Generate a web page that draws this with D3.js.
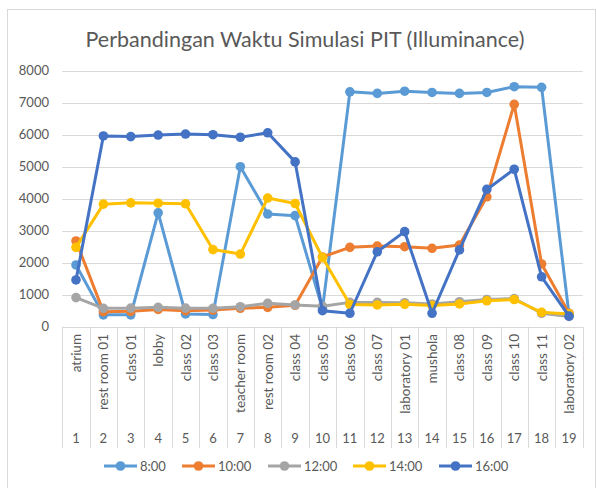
<!DOCTYPE html>
<html>
<head>
<meta charset="utf-8">
<script src="https://cdn.jsdelivr.net/npm/d3@7"></script>
<style>
  body { margin: 0; background: #fff; }
  svg { display: block; font-family: Lato, "Open Sans", sans-serif; }
</style>
</head>
<body>
<div id="svg-container"></div>
<script>
const categories = ['atrium', 'rest room 01', 'class 01', 'lobby', 'class 02', 'class 03',
  'teacher room', 'rest room 02', 'class 04', 'class 05', 'class 06', 'class 07',
  'laboratory 01', 'mushola', 'class 08', 'class 09', 'class 10', 'class 11', 'laboratory 02']
const numbers = d3.range(1, 20).map(String)
const yTicks = [0, 1000, 2000, 3000, 4000, 5000, 6000, 7000, 8000]

const s0800 = [1930, 370, 370, 3560, 400, 380, 5000, 3520, 3470, 560, 7340, 7290, 7360, 7320, 7290, 7320, 7500, 7480, 380]
const s1000 = [2680, 470, 480, 540, 500, 520, 575, 605, 670, 2180, 2480, 2520, 2500, 2450, 2550, 4060, 6950, 1960, 420]
const s1200 = [910, 575, 580, 605, 580, 575, 625, 730, 680, 640, 760, 760, 750, 710, 780, 850, 880, 420, 320]
const s1400 = [2480, 3830, 3870, 3860, 3840, 2410, 2270, 4020, 3850, 2160, 690, 680, 700, 660, 710, 810, 850, 450, 400]
const s1600 = [1460, 5960, 5940, 5990, 6020, 6000, 5920, 6060, 5150, 500, 420, 2340, 2970, 420, 2400, 4290, 4920, 1560, 330]

const seriesNames = ['8:00', '10:00', '12:00', '14:00', '16:00']
const seriesColors = ['#5B9BD5', '#ED7D31', '#A5A5A5', '#FFC000', '#4472C4']
const series = [s0800, s1000, s1200, s1400, s1600].map((values, i) => ({
  name: seriesNames[i], color: seriesColors[i], values,
}))

const width = 596
const height = 488
const plotLeft = 62.3
const plotRight = 582.7
const plotTop = 70.7
const plotBottom = 326.7

const svg = d3.select('#svg-container').append('svg')
  .attr('width', width).attr('height', height)

// chart frame
svg.append('rect')
  .attr('x', 7.5).attr('y', 9.5).attr('width', 588).attr('height', 500)
  .attr('fill', '#fff').attr('stroke', '#D9D9D9')

svg.append('text')
  .attr('x', 305).attr('y', 47)
  .attr('text-anchor', 'middle')
  .attr('font-size', 21.5).attr('fill', '#595959')
  .text('Perbandingan Waktu Simulasi PIT (Illuminance)')

const x = d3.scaleBand().domain(categories).range([plotLeft, plotRight])
const y = d3.scaleLinear().domain([0, 8000]).range([plotBottom, plotTop])

// gridlines + y labels
const grid = svg.append('g')
grid.selectAll('line')
  .data(yTicks)
  .join('line')
  .attr('x1', plotLeft).attr('x2', plotRight)
  .attr('y1', d => Math.round(y(d)) + 0.5).attr('y2', d => Math.round(y(d)) + 0.5)
  .attr('stroke', '#D9D9D9').attr('stroke-width', 1)

grid.selectAll('text')
  .data(yTicks)
  .join('text')
  .attr('x', 49).attr('y', d => y(d))
  .attr('dy', '0.35em')
  .attr('text-anchor', 'end')
  .attr('font-size', 13).attr('fill', '#595959')
  .text(d => d)

// category table below plot
const axis = svg.append('g')
const bounds = categories.map(c => x(c)).concat([plotRight])
axis.selectAll('line')
  .data(bounds)
  .join('line')
  .attr('x1', d => Math.round(d) + 0.5).attr('x2', d => Math.round(d) + 0.5)
  .attr('y1', plotBottom).attr('y2', 448)
  .attr('stroke', '#D9D9D9')

axis.selectAll('text.name')
  .data(categories)
  .join('text')
  .attr('class', 'name')
  .attr('transform', d => `translate(${x(d) + x.bandwidth() / 2 + 5},334) rotate(-90)`)
  .attr('text-anchor', 'end')
  .attr('font-size', 13.5).attr('fill', '#595959')
  .text(d => d)

axis.selectAll('text.num')
  .data(categories)
  .join('text')
  .attr('class', 'num')
  .attr('x', d => x(d) + x.bandwidth() / 2)
  .attr('y', 443)
  .attr('text-anchor', 'middle')
  .attr('font-size', 13).attr('fill', '#595959')
  .text((d, i) => numbers[i])

// series
const cx = i => x(categories[i]) + x.bandwidth() / 2
const line = d3.line().x((d, i) => cx(i)).y(d => y(d))

series.forEach(s => {
  const g = svg.append('g')
  g.append('path')
    .attr('d', line(s.values))
    .attr('fill', 'none')
    .attr('stroke', s.color).attr('stroke-width', 3)
    .attr('stroke-linejoin', 'round')
  g.selectAll('circle')
    .data(s.values)
    .join('circle')
    .attr('cx', (d, i) => cx(i)).attr('cy', d => y(d))
    .attr('r', 4.8)
    .attr('fill', s.color)
})

// legend
const legendX = [104, 182, 268, 353, 439]
const legend = svg.append('g')
series.forEach((s, i) => {
  const g = legend.append('g').attr('transform', `translate(${legendX[i]},466)`)
  g.append('line')
    .attr('x1', 0).attr('x2', 33)
    .attr('stroke', s.color).attr('stroke-width', 3)
  g.append('circle').attr('cx', 16.5).attr('r', 4.8).attr('fill', s.color)
  g.append('text')
    .attr('x', 36).attr('dy', '0.35em')
    .attr('font-size', 13).attr('fill', '#595959')
    .text(s.name)
})
</script>
</body>
</html>
